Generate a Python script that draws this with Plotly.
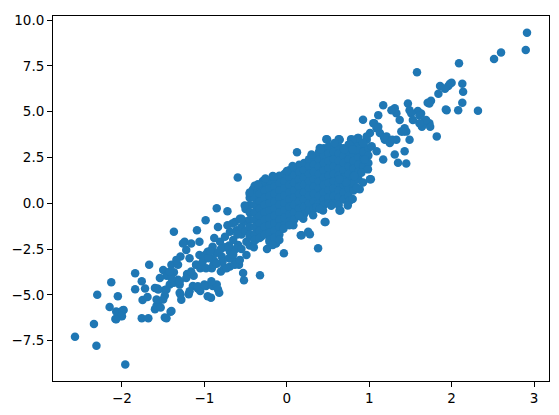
import plotly.graph_objects as go

# ---- lower-left tail (x < -1.0) ----
tail_low_x = [-2.57, -2.31, -1.96, -2.34, -2.30, -2.13, -2.15, -2.05, -2.08, -2.00, -1.98, -2.05,
              -1.84, -1.84, -1.76, -1.72, -1.75, -1.69, -1.67, -1.76, -1.68,
              -1.60, -1.58, -1.56, -1.57, -1.53, -1.48, -1.41, -1.48, -1.50, -1.46, -1.37, -1.40,
              -1.42, -1.37, -1.32, -1.30, -1.28, -1.29, -1.24, -1.22, -1.18, -1.16, -1.19, -1.21,
              -1.13, -1.14, -1.08, -1.05, -1.26, -1.37, -1.32, -1.40, -1.30, -1.56, -1.46, -1.48,
              -1.58, -1.40, -1.46, -2.07, -1.99, -2.01, -2.07, -1.29, -1.34, -1.42, -1.54, -1.60,
              -1.50, -1.30, -1.22, -1.16, -1.10, -1.06, -1.18, -1.08]
tail_low_y = [-7.29, -7.77, -8.80, -6.59, -4.99, -4.31, -5.66, -5.08, -6.32, -6.16, -5.83, -5.95,
              -3.82, -4.69, -4.25, -4.65, -5.28, -5.12, -3.36, -6.28, -6.28,
              -5.78, -5.60, -5.42, -4.65, -5.69, -6.23, -5.92, -4.74, -3.64, -3.95, -1.56, -3.36,
              -4.43, -4.34, -4.17, -4.88, -5.26, -2.91, -2.10, -2.55, -3.00, -2.19, -4.97, -3.86,
              -3.95, -4.52, -4.65, -4.79, -2.19, -3.76, -3.36, -4.08, -4.44, -4.71, -4.71, -5.03,
              -5.25, -5.88, -6.27, -5.91, -5.84, -6.15, -6.33, -4.98, -3.09, -3.72, -4.08, -4.62,
              -5.25, -4.26, -4.08, -3.72, -3.36, -2.82, -4.80, -4.53]

# ---- left band (-1.1 < x < -0.3) ----
band_left_x = [-1.09, -1.06, -1.05, -0.985, -0.99, -0.98, -0.92, -0.90, -0.85, -0.82, -0.85, -0.72,
               -0.53, -0.52, -0.325, -0.595, -0.50, -0.24, -1.10, -1.04, -0.98, -0.91, -0.89,
               -0.80, -0.76, -0.69, -0.63, -0.58, -0.835, -0.63, -0.57, -0.49, -0.45, -0.41,
               -1.02, -0.96, -0.90, -0.81, -0.75, -0.69, -0.61, -0.875, -0.79, -0.69, -0.59,
               -0.49, -0.45, -1.00, -0.915, -0.835, -0.96, -0.73, -0.63, -0.57, -0.49, -0.21,
               -0.13, -0.38, -0.31, -0.65, -0.62, -0.55, -0.55, -0.50, -0.50, -0.60, -0.70,
               -0.75, -0.80, -0.85, -0.90, -0.95, -0.70, -0.65, -0.78, -0.85, -0.55, -0.45,
               -0.40, -0.88, -0.93, -0.72, -0.66]
band_left_y = [-1.47, -2.10, -3.54, -0.93, -2.82, -4.52, -5.15, -4.52, -4.43, -4.88, -0.27, -0.43,
               -3.81, -4.20, -3.93, 1.40, -0.31, -2.50, -3.36, -3.45, -3.54, -3.54, -3.36,
               -3.72, -3.54, -3.45, -3.18, -3.36, -1.29, -1.02, -0.85, -0.22, 0.50, 0.77,
               -3.18, -2.64, -2.37, -2.10, -1.83, -1.56, -1.47, -3.18, -2.91, -2.64, -2.28,
               -2.10, -1.83, -4.44, -4.26, -4.71, -5.07, -3.54, -3.36, -3.09, -2.82, -2.10,
               -2.19, -2.01, -1.83, -2.00, -2.50, -1.30, -1.70, -1.00, -1.50, -1.70, -2.30,
               -2.40, -2.50, -2.70, -3.00, -3.00, -3.00, -2.80, -3.20, -3.30, -2.50, -2.30,
               -2.40, -1.90, -2.60, -1.20, -1.10]

# ---- dense core (columns read across the central cloud) ----
core_x = ([-0.45] * 6 + [-0.39] * 8 + [-0.33] * 8 + [-0.27] * 8 + [-0.21] * 9 + [-0.15] * 9 +
          [-0.09] * 9 + [-0.03] * 8 + [0.03] * 8 + [0.09] * 8 + [0.15] * 8 + [0.21] * 8 +
          [0.27] * 8 + [0.33] * 8 + [0.39] * 8 + [0.45] * 9 + [0.51] * 9 + [0.57] * 9 +
          [0.63] * 9 + [0.69] * 8 + [0.75] * 8 + [0.81] * 7 + [0.87] * 6 + [0.93] * 4 + [0.99] * 3)
core_y = [0.3, -0.1, -0.5, -0.9, -1.3, -1.7,
          0.7, 0.3, -0.1, -0.5, -0.9, -1.3, -1.7, -2.0,
          0.9, 0.5, 0.1, -0.3, -0.7, -1.1, -1.5, -1.9,
          1.1, 0.7, 0.3, -0.1, -0.5, -0.9, -1.3, -1.7,
          1.2, 0.8, 0.4, 0.0, -0.4, -0.8, -1.2, -1.6, -2.0,
          1.3, 0.9, 0.5, 0.1, -0.3, -0.7, -1.1, -1.5, -1.9,
          1.5, 1.1, 0.7, 0.3, -0.1, -0.5, -0.9, -1.3, -1.7,
          1.6, 1.2, 0.8, 0.4, 0.0, -0.4, -0.8, -1.2,
          1.8, 1.4, 1.0, 0.6, 0.2, -0.2, -0.6, -1.0,
          1.9, 1.5, 1.1, 0.7, 0.3, -0.1, -0.5, -0.9,
          2.1, 1.7, 1.3, 0.9, 0.5, 0.1, -0.3, -0.7,
          2.2, 1.8, 1.4, 1.0, 0.6, 0.2, -0.2, -0.6,
          2.4, 2.0, 1.6, 1.2, 0.8, 0.4, 0.0, -0.4,
          2.5, 2.1, 1.7, 1.3, 0.9, 0.5, 0.1, -0.3,
          2.8, 2.4, 2.0, 1.6, 1.2, 0.8, 0.4, 0.0,
          3.0, 2.6, 2.2, 1.8, 1.4, 1.0, 0.6, 0.2, -0.1,
          3.1, 2.7, 2.3, 1.9, 1.5, 1.1, 0.7, 0.3, 0.0,
          3.2, 2.8, 2.4, 2.0, 1.6, 1.2, 0.8, 0.4, 0.0,
          3.1, 2.7, 2.3, 1.9, 1.5, 1.1, 0.7, 0.3, -0.1,
          3.0, 2.6, 2.2, 1.8, 1.4, 1.0, 0.6, 0.2,
          3.2, 2.8, 2.4, 2.0, 1.6, 1.2, 0.8, 0.4,
          3.1, 2.7, 2.3, 1.9, 1.5, 1.1, 0.7,
          3.3, 2.9, 2.5, 2.1, 1.7, 1.3,
          3.2, 2.8, 2.4, 2.0,
          3.0, 2.6, 2.2]

# ---- core edges and isolated points ----
edge_x = [-0.035, 0.17, 0.28, 0.38, 0.47, 0.65, 0.76, 0.124, 0.49, 0.64, 0.48, 0.63, 0.78, 0.87, 0.97,
          0.30, 0.40, -0.17, -0.29, -0.39, -0.45, -0.51, -0.55, 0.46, 0.18, 0.64, 0.44, 0.36,
          0.74, 0.80, 0.885, 0.925, -0.09, -0.17, 0.26, 0.08, -0.04, 0.20, 0.32, 0.07, 0.0,
          -0.26, -0.35, -0.16, 0.41, 0.03, 0.15, 0.54, 0.40]
edge_y = [-2.73, -1.74, -1.69, -2.45, -1.02, -0.39, 0.13, 2.79, 3.48, 3.48, 3.50, 3.50, 3.50, 3.56, 3.47,
          2.66, 3.02, 1.49, 1.22, 0.95, 0.59, -0.12, -0.85, -1.02, -1.74, -0.39, -0.39, -0.22,
          -0.12, 0.23, 0.77, 1.13, -2.01, -2.28, -1.56, -1.20, -1.39, -0.85, -0.66, 2.03, 1.76,
          1.35, 1.04, 1.45, 2.93, -1.2, -0.66, -0.13, -0.31]

# ---- upper-right tail (x > 0.6) ----
tail_high_x = [0.925, 0.85, 1.02, 1.17, 1.35, 1.45, 1.43, 1.31, 1.49, 1.82, 1.58, 2.09, 2.515, 2.60,
               2.915, 2.90, 2.32, 2.08, 1.94, 2.13, 2.14, 2.13, 2.00, 1.96, 1.86, 1.84, 1.75, 1.73,
               1.73, 1.74, 1.64, 1.67, 1.63, 1.59, 1.47, 1.49, 1.51, 1.61, 1.69, 1.61, 1.53, 1.43,
               1.39, 1.31, 1.33, 1.37, 1.27, 1.17, 1.11, 1.05, 1.09, 1.13, 1.21, 1.19, 1.25, 1.33,
               1.01, 0.97, 0.86, 0.80, 0.76, 0.64, 0.58, 0.70, 0.80, 0.925, 1.03, 1.09, 0.945,
               0.985, 0.905, 1.01, 0.82, 0.72, 0.64, 1.98, 1.92, 1.71, 1.93, 1.06, 1.11, 1.45,
               1.41, 1.28, 1.18]
tail_high_y = [4.56, 0.86, 1.31, 2.39, 2.21, 2.17, 2.84, 2.66, 3.47, 3.65, 7.15, 7.64, 7.87, 8.23,
               9.31, 8.36, 5.05, 5.08, 5.08, 5.48, 6.08, 6.52, 6.58, 6.40, 6.40, 5.98, 5.59, 5.44,
               4.37, 4.18, 4.18, 4.45, 4.90, 5.04, 5.44, 5.08, 4.91, 4.81, 4.54, 4.37, 4.54, 4.10,
               3.92, 5.18, 4.91, 4.54, 5.08, 5.35, 4.81, 4.37, 4.10, 3.83, 3.65, 3.47, 3.29, 3.47,
               3.83, 3.65, 3.56, 3.47, 3.20, 3.47, 3.29, 2.93, 2.93, 3.29, 3.11, 2.84, 2.39,
               1.85, 1.67, 1.31, 1.49, 1.13, 1.31, 6.52, 6.25, 5.48, 5.12, 4.36, 4.18, 3.91,
               3.91, 3.47, 3.60]

x_all = tail_low_x + band_left_x + core_x + edge_x + tail_high_x
y_all = tail_low_y + band_left_y + core_y + edge_y + tail_high_y

x_ticks = [-2, -1, 0, 1, 2, 3]
y_ticks = [-7.5, -5.0, -2.5, 0.0, 2.5, 5.0, 7.5, 10.0]

fig = go.Figure(go.Scatter(
    x=x_all, y=y_all, mode="markers",
    marker=dict(size=8.5, color="#1f77b4", line=dict(width=0)),
    hoverinfo="skip",
))

axis_common = dict(
    showgrid=False, zeroline=False, showline=True, mirror=True,
    linecolor="black", linewidth=1, ticks="outside", ticklen=5,
    tickcolor="black", tickwidth=1, ticklabeloverflow="allow",
    tickfont=dict(family="DejaVu Sans", size=13.5, color="black"),
)

# page body has an 8px default margin, so the figure is sized to sit inside the window
fig.update_layout(
    width=551, height=407,
    margin=dict(l=45, r=10, t=4, b=34),
    plot_bgcolor="white", paper_bgcolor="white",
    showlegend=False,
    xaxis=dict(range=[-2.837, 3.182], tickvals=x_ticks, **axis_common),
    yaxis=dict(range=[-9.70, 10.22], tickvals=y_ticks, tickformat=".1f", **axis_common),
)

fig.write_html("out.html")
